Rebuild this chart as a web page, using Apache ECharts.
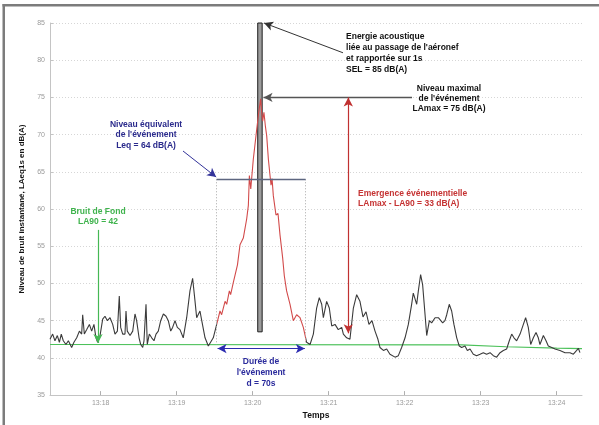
<!DOCTYPE html>
<html><head><meta charset="utf-8">
<script src="https://cdn.jsdelivr.net/npm/echarts@6/dist/echarts.min.js"></script>
<style>html,body{margin:0;padding:0;background:#fff}#c{width:599px;height:425px}</style>
</head><body><div id="c"></div>
<script>
// Time in seconds after 13:17:00, level in dB(A)
const times = [20.0,22.1,23.9,25.8,27.4,28.9,30.5,32.6,34.5,37.1,38.9,41.1,43.2,45.0,45.8,47.1,49.0,51.1,52.9,54.7,56.3,57.6,59.5,61.6,63.4,65.3,67.4,69.5,71.3,73.2,74.7,75.8,77.4,79.2,80.0,81.0,83.2,85.3,87.1,88.4,90.3,91.6,93.2,94.2,95.8,96.8,98.4,100.3,102.1,103.7,105.5,107.4,109.5,111.6,113.4,115.3,116.8,118.7,120.5,122.6,125.2,127.9,130.5,132.6,134.5,135.8,138.4,139.8,142.4,145.0,148.9,151.6,154.2,155.5,158.2,159.5,161.6,162.6,164.7,166.1,168.0,170.0,172.6,175.3,176.6,177.4,178.5,180.5,183.2,184.8,186.3,187.1,187.9,188.9,190.0,191.1,192.4,193.7,194.5,195.3,196.3,198.4,200.0,201.6,203.7,205.0,206.8,209.5,212.1,214.7,217.4,220.0,222.6,225.3,227.9,230.5,232.6,234.5,235.8,238.4,240.5,242.4,245.0,247.6,250.3,251.6,254.2,256.8,259.5,262.1,264.7,267.1,269.5,271.8,274.2,276.6,278.9,280.5,283.2,285.8,288.4,292.4,295.0,297.6,300.3,302.9,305.5,306.8,309.5,310.8,312.6,314.2,316.1,317.4,319.5,321.3,324.0,326.6,327.9,330.0,331.8,333.2,335.2,337.1,338.9,341.1,343.1,345.0,347.6,349.5,351.6,354.2,356.8,359.5,362.1,364.7,367.4,370.0,372.6,375.3,377.9,380.5,382.6,384.5,386.3,388.4,391.1,393.7,395.5,397.6,399.5,401.6,403.7,405.5,406.8,409.5,411.6,413.4,416.1,418.7,422.6,426.6,430.5,433.2,435.8,437.1,438.4];
const levels = [42.5,43.2,42.3,43.0,42.1,43.2,42.3,41.8,42.3,41.4,42.1,42.7,43.6,43.2,45.8,43.2,43.8,44.5,43.6,44.5,42.7,42.1,43.0,45.2,45.6,45.0,45.4,44.5,43.2,43.6,48.3,44.1,43.2,43.2,46.3,43.6,43.0,43.6,45.9,45.0,42.7,41.8,41.4,42.3,47.2,41.8,43.2,42.7,42.3,43.2,43.6,45.0,45.9,45.6,45.0,43.6,44.1,45.0,44.1,43.8,42.7,45.4,49.0,50.7,47.6,45.4,46.3,45.0,42.7,41.6,42.7,44.5,46.3,45.8,47.6,47.2,49.0,48.5,50.1,50.3,52.5,55.2,56.1,58.7,60.5,64.5,62.7,66.7,70.7,73.0,74.8,73.0,71.8,73.0,71.2,69.8,66.7,64.5,63.2,64.1,61.8,59.2,59.4,56.5,53.4,51.0,49.0,47.2,45.0,45.8,45.4,44.1,42.1,41.8,43.2,46.7,48.1,47.2,45.4,47.6,46.7,44.3,44.5,43.8,44.1,43.2,42.7,42.5,46.7,48.5,47.6,45.5,46.2,44.5,45.0,43.6,42.5,41.4,41.0,41.2,40.5,40.1,40.3,41.4,42.7,44.5,47.2,48.7,47.2,49.0,51.2,49.8,45.8,43.0,45.0,44.7,45.4,45.4,45.2,44.7,45.0,45.8,47.2,46.3,44.5,42.7,41.6,41.4,41.6,41.0,41.2,40.5,40.3,40.5,40.7,40.5,40.7,40.3,40.1,40.7,41.0,41.2,42.3,43.2,42.7,42.3,43.2,44.5,45.4,44.1,41.8,42.7,43.4,42.7,41.8,43.0,42.3,41.6,41.4,41.2,41.0,40.7,40.7,40.5,41.0,41.3,40.7];
const la90Times = [20, 345, 380, 420, 440];
const la90Levels = [41.8, 41.75, 41.5, 41.3, 41.25];
const tickSeconds = [60, 120, 180, 240, 300, 360, 420];
const tickLabels = ['13:18', '13:19', '13:20', '13:21', '13:22', '13:23', '13:24'];
const eventStart = 151.6, eventEnd = 221.8;
const LAmax = 75, Leq = 64, SEL = 85, LA90 = 41.8;
const selBar = [184, 187.5, 43.5];

const FONT = 'Liberation Sans, Arial, sans-serif';
const chart = echarts.init(document.getElementById('c'), null, {renderer: 'canvas'});
const lineData = times.map((t, i) => [t, levels[i]]);
const la90Data = la90Times.map((t, i) => [t, la90Levels[i]]);
const ptn = (c, s) => Object.assign({coord: c, symbol: s || 'none', symbolSize: [7, 9]});
function seg(a, b, sa, sb, color, width, type) {
  return [Object.assign(ptn(a, sa), {lineStyle: {color: color, width: width || 1, type: type || 'solid'}}),
          Object.assign(ptn(b, sb), {lineStyle: {color: color, width: width || 1, type: type || 'solid'}})];
}
const option = {
  animation: false,
  backgroundColor: '#fff',
  grid: {left: 50, right: 17, top: 23, bottom: 27, containLabel: false},
  xAxis: {
    type: 'value', min: 20, max: 440,
    axisLine: {show: true, lineStyle: {color: '#c4c4c4'}},
    axisTick: {show: true, inside: true, length: 4, customValues: tickSeconds, lineStyle: {color: '#b0b0b0'}},
    axisLabel: {customValues: tickSeconds, color: '#9a9a9a', fontSize: 7, margin: 4, fontFamily: FONT,
      formatter: v => tickLabels[tickSeconds.indexOf(Math.round(v))] || ''},
    splitLine: {show: false},
    name: 'Temps', nameLocation: 'middle', nameGap: 13,
    nameTextStyle: {color: '#111', fontWeight: 'bold', fontSize: 8.5, fontFamily: FONT}
  },
  yAxis: {
    type: 'value', min: 35, max: 85, interval: 5,
    axisLine: {show: true, lineStyle: {color: '#c4c4c4'}},
    axisTick: {show: true, inside: true, length: 3, lineStyle: {color: '#c4c4c4'}},
    axisLabel: {color: '#9a9a9a', fontSize: 7, margin: 5, fontFamily: FONT},
    splitLine: {show: true, lineStyle: {color: '#d6d6d6', type: [1, 2]}},
    name: 'Niveau de bruit instantané, LAeq1s en dB(A)', nameLocation: 'middle', nameGap: 24,
    nameTextStyle: {color: '#111', fontWeight: 'bold', fontSize: 8, fontFamily: FONT}
  },
  visualMap: {
    show: false, type: 'piecewise', dimension: 0, seriesIndex: 1,
    pieces: [{lt: eventStart, color: '#3a3a3a'}, {gte: eventStart, lte: eventEnd, color: '#d24a4a'}, {gt: eventEnd, color: '#3a3a3a'}]
  },
  series: [
    {
      type: 'line', name: 'LA90', data: la90Data, symbol: 'none', silent: true, z: 1,
      lineStyle: {color: '#4cc15a', width: 1.2},
      markArea: {silent: true, label: {show: false},
        itemStyle: {color: '#9c9c9c', borderColor: '#1e1e1e', borderWidth: 1},
        data: [[{coord: [selBar[0], SEL]}, {coord: [selBar[1], selBar[2]]}]]}
    },
    {
      type: 'line', name: 'LAeq1s', data: lineData, symbol: 'none', silent: true, z: 3,
      lineStyle: {width: 1.1}
    },
    {
      type: 'line', name: 'annotations', data: la90Data, symbol: 'none', silent: true, z: 4,
      lineStyle: {opacity: 0},
      markLine: {
        silent: true, symbol: ['none', 'none'], label: {show: false}, emphasis: {disabled: true},
        data: [
          seg([eventStart, Leq], [eventStart, LA90], 'none', 'none', '#a8a8a8', 1, [1, 2]),
          seg([eventEnd, Leq], [eventEnd, LA90], 'none', 'none', '#a8a8a8', 1, [1, 2]),
          seg([eventStart, Leq], [eventEnd, Leq], 'none', 'none', '#5d6680', 1.4),
          seg([251.3, 81.0], [189, SEL], 'none', 'arrow', '#333', 1),
          seg([305.8, LAmax], [188.6, LAmax], 'none', 'arrow', '#555', 1.3),
          seg([125, 67.8], [151.2, 64.3], 'none', 'arrow', '#33339a', 1),
          seg([152.3, 41.25], [221.2, 41.25], 'arrow', 'arrow', '#2b2bb0', 1.2),
          seg([255.5, 43.3], [255.5, LAmax], 'arrow', 'arrow', '#c03030', 1.2),
          seg([57.9, 57.2], [57.9, 42.0], 'none', 'arrow', '#45b854', 1.2)
        ]
      }
    }
  ]
};
chart.setOption(option);

const notes = [
  {at: [253.7, 83.13], text: "Energie acoustique\nliée au passage de l'aéronef\net rapportée sur 1s\nSEL = 85 dB(A)", color: '#111', align: 'left', lh: 10.8},
  {at: [335.0, 76.2], text: "Niveau maximal\nde l'événement\nLAmax = 75 dB(A)", color: '#111', align: 'center', lh: 10},
  {at: [95.8, 71.4], text: "Niveau équivalent\nde l'événement\nLeq = 64 dB(A)", color: '#2a2a8c', align: 'center', lh: 10.5},
  {at: [263.2, 62.1], text: "Emergence événementielle\nLAmax - LA90 = 33 dB(A)", color: '#c53333', align: 'left', lh: 10},
  {at: [57.9, 59.6], text: "Bruit de Fond\nLA90 = 42", color: '#3fb34d', align: 'center', lh: 10},
  {at: [186.6, 39.5], text: "Durée de\nl'événement\nd = 70s", color: '#2a2a9c', align: 'center', lh: 11}
];
const graphic = [
  {type: 'rect', shape: {x: 2.5, y: 4, width: 2.5, height: 430}, style: {fill: '#7c7c7c'}, silent: true},
  {type: 'rect', shape: {x: 2.5, y: 4, width: 600, height: 2.5}, style: {fill: '#7c7c7c'}, silent: true}
];
notes.forEach(n => {
  const p = chart.convertToPixel({gridIndex: 0}, n.at);
  graphic.push({type: 'text', silent: true, z: 100, x: p[0], y: p[1] - n.lh / 2,
    style: {text: n.text, fill: n.color, font: 'bold 8.5px ' + FONT, align: n.align, textAlign: n.align,
      verticalAlign: 'top', textVerticalAlign: 'top', lineHeight: n.lh}});
});
chart.setOption({graphic: graphic});
</script></body></html>
